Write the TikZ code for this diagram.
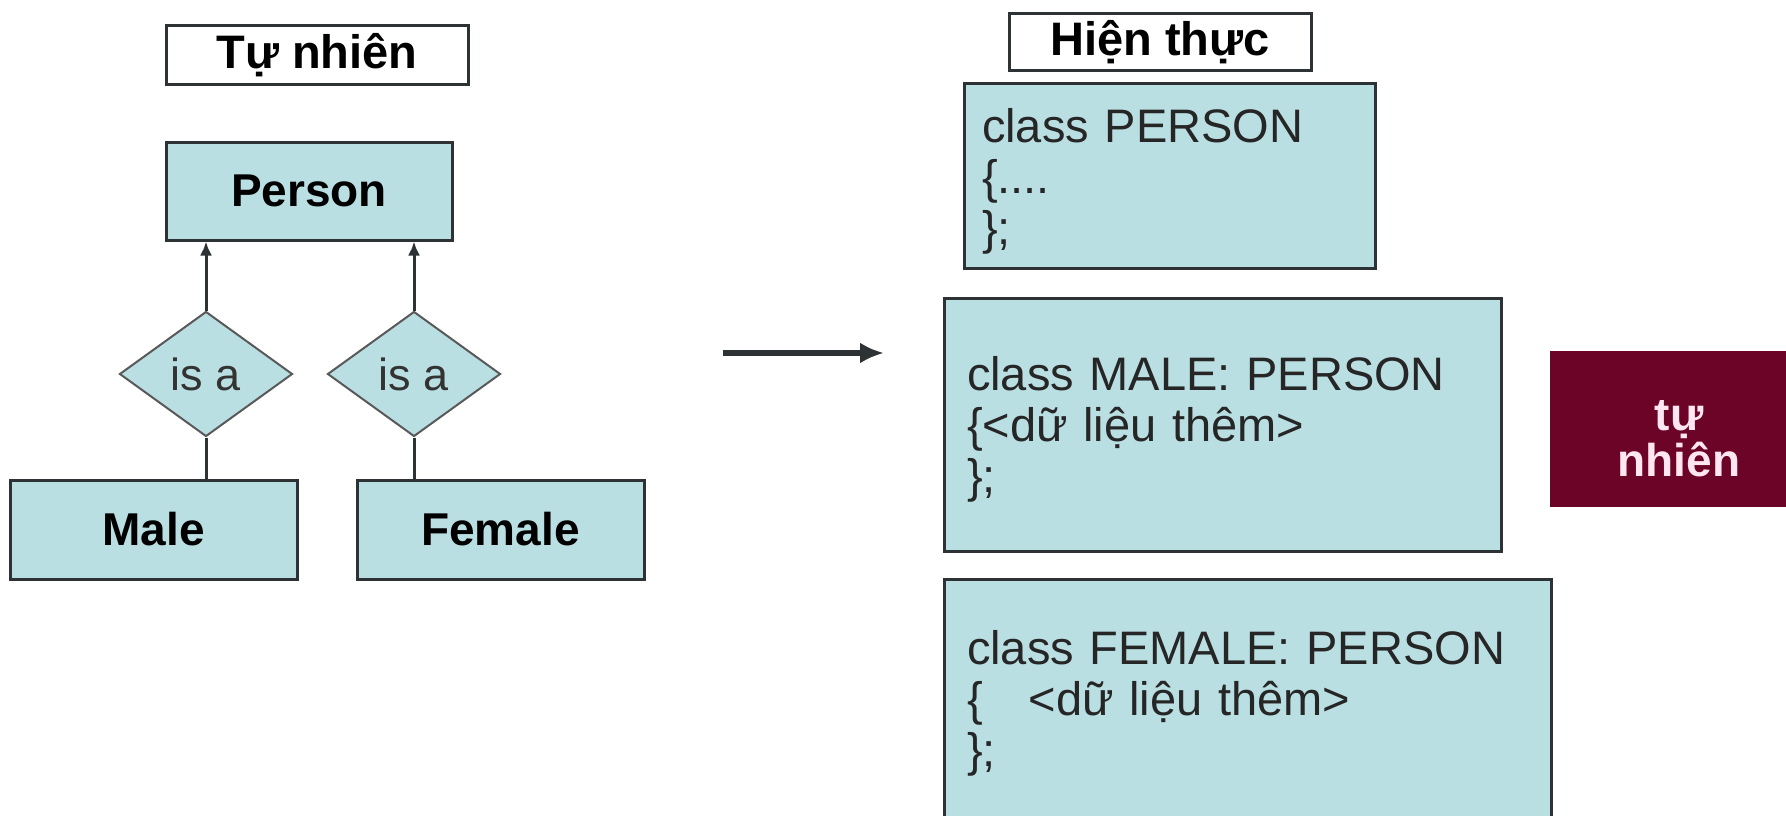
\documentclass[tikz,border=0pt]{standalone}
\usepackage{fontspec}
\setmainfont{Liberation Sans}
\usetikzlibrary{shapes.geometric,arrows.meta}
\definecolor{svetlemodra}{RGB}{186,223,227}
\definecolor{vinova}{RGB}{108,4,40}
\definecolor{ramecek}{RGB}{45,50,52}
\definecolor{ruzova}{RGB}{255,230,240}
\begin{document}
\begin{tikzpicture}[x=1pt,y=-1pt,
  nadpis/.style={draw=ramecek, line width=3pt, fill=white, inner sep=0pt,
    font=\fontsize{47}{54}\selectfont\bfseries},
  trida/.style={draw=ramecek, line width=3pt, fill=svetlemodra, inner sep=0pt,
    minimum width=287pt, minimum height=99pt, font=\fontsize{46}{54}\selectfont\bfseries},
  vztah/.style={diamond, draw=black!65, line width=2pt, fill=svetlemodra, inner sep=0pt,
    minimum width=173pt, minimum height=125pt, text=black!80, font=\fontsize{45}{50}\selectfont},
  kod/.style={draw=ramecek, line width=3pt, fill=svetlemodra, align=left, inner ysep=0pt,
    inner xsep=23pt, text=black!85, font=\fontsize{47}{51}\selectfont,
    execute at begin node=\rule{0pt}{44pt}},
  spoj/.style={line width=3pt, draw=ramecek},
  sipka/.style={spoj, -{Latex[length=14pt,width=12pt]}}]
  \useasboundingbox (0,0) rectangle (1786,816);
  \clip (0,0) rectangle (1786,816);
  % levá strana -- přirozený model
  \node[nadpis, minimum width=302pt, minimum height=59pt] (tunhien) at (317,55.5) {Tự nhiên};
  \node[trida, minimum width=286pt, minimum height=98pt] (person) at (309,191) {Person};
  \node[vztah] (isaM) at (206,374) {is a};
  \node[vztah] (isaF) at (414,374) {is a};
  \node[trida] (male) at (153.5,529.5) {Male};
  \node[trida] (female) at (500.5,529.5) {Female};
  \draw[sipka] (isaM.north) -- (isaM.north |- person.south);
  \draw[sipka] (isaF.north) -- (isaF.north |- person.south);
  \draw[spoj] (isaM.south) -- (isaM.south |- male.north);
  \draw[spoj] (isaF.south) -- (isaF.south |- female.north);
  % přechod
  \coordinate (zac) at (723,353);
  \coordinate (kon) at (884,353);
  \draw[line width=5.5pt, draw=ramecek, -{Latex[length=24pt,width=21pt]}] (zac) -- (kon);
  % pravá strana -- implementace
  \node[nadpis, minimum width=302pt, minimum height=57pt] (hienthuc) at (1160,42.5) {Hiện thực};
  \node[kod, text width=375pt, inner xsep=18pt, minimum height=184pt] (clsperson) at (1169.5,176)
    {class PERSON\\\{....\\\};};
  \node[kod, text width=511pt, minimum height=253pt] (clsmale) at (1222.5,424.5)
    {class MALE: PERSON\\\{<dữ liệu thêm>\\\};};
  \node[kod, text width=561pt, minimum height=239pt] (clsfemale) at (1247.5,698.5)
    {class FEMALE: PERSON\\\{\hspace*{46pt}<dữ liệu thêm>\\\};};
  \node[fill=vinova, text=ruzova, align=center, inner sep=0pt,
    minimum width=258pt, minimum height=156pt, font=\fontsize{46}{46}\selectfont\bfseries]
    (poznamka) at (1679,429) {\rule{0pt}{49pt}tự\\nhiên};
\end{tikzpicture}
\end{document}
